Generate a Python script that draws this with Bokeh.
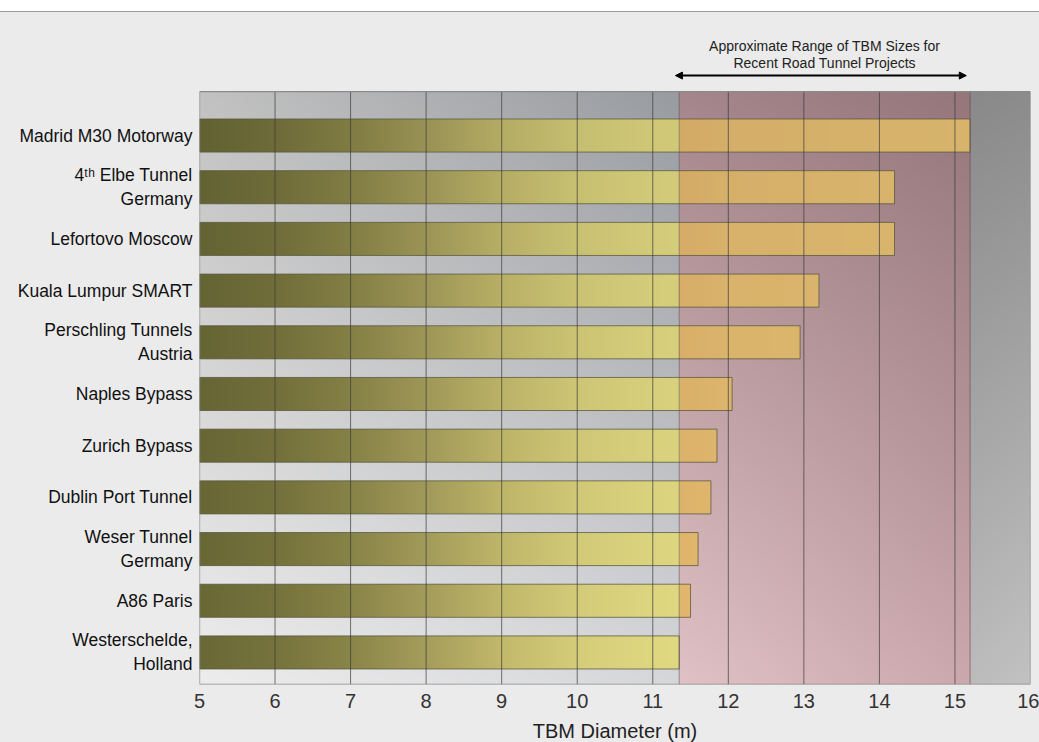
import numpy as np
from bokeh.plotting import figure
from bokeh.models import FixedTicker, Div, Arrow, NormalHead
from bokeh.layouts import column
from bokeh.embed import file_html
from bokeh.resources import INLINE
from bokeh.core.properties import value

# TBM diameters of recent road tunnel projects (m), listed top to bottom
projects = [
    "Madrid M30 Motorway",
    "4ᵗʰ Elbe Tunnel\nGermany",
    "Lefortovo Moscow",
    "Kuala Lumpur SMART",
    "Perschling Tunnels\nAustria",
    "Naples Bypass",
    "Zurich Bypass",
    "Dublin Port Tunnel",
    "Weser Tunnel\nGermany",
    "A86 Paris",
    "Westerschelde,\nHolland",
]
diameters = [15.2, 14.2, 14.2, 13.2, 12.95, 12.05, 11.85, 11.77, 11.6, 11.5, 11.35]
x_ticks = [5, 6, 7, 8, 9, 10, 11, 12, 13, 14, 15, 16]
range_note = ["Approximate Range of TBM Sizes for", "Recent Road Tunnel Projects"]

FONT = "Liberation Sans"
X_MIN, X_MAX = x_ticks[0], x_ticks[-1]
BAR_H = 0.64
Y_LOW, Y_PLOT_TOP, Y_TOP = -0.62, 10.85, 12.38

n = len(projects)
rows = [n - 1 - i for i in range(n)]
range_low, range_high = min(diameters), max(diameters)


def rgb(h):
    return np.array([int(h[i:i + 2], 16) for i in (1, 3, 5)], dtype=float)


def to_rgba(arr):
    h, w, _ = arr.shape
    out = np.empty((h, w), dtype=np.uint32)
    view = out.view(dtype=np.uint8).reshape((h, w, 4))
    view[..., :3] = np.clip(arr, 0, 255).astype(np.uint8)
    view[..., 3] = 255
    return out


def corners(u, v, tl, tr, bl, br):
    u = u[None, :, None]
    v = v[:, None, None]
    top = (1 - u) * rgb(tl) + u * rgb(tr)
    bot = (1 - u) * rgb(bl) + u * rgb(br)
    return (1 - v) * bot + v * top


# ---- shaded plot background: grey zone, highlighted range, grey margin
BW, BH = 660, 240
bx = X_MIN + (np.arange(BW) + 0.5) / BW * (X_MAX - X_MIN)
bv = (np.arange(BH) + 0.5) / BH
bg = np.zeros((BH, BW, 3))
m1 = bx < range_low
m2 = (bx >= range_low) & (bx < range_high)
m3 = bx >= range_high
bg[:, m1] = corners((bx[m1] - X_MIN) / (range_low - X_MIN), bv,
                    "#c2c2c2", "#989ba0", "#ededed", "#d6d7da")
bg[:, m2] = corners((bx[m2] - range_low) / (range_high - range_low), bv,
                    "#a4868c", "#94767b", "#e0c2c6", "#cba8ad")
bg[:, m3] = corners((bx[m3] - range_high) / (X_MAX - range_high), bv,
                    "#898989", "#8c8c8c", "#bcbcbc", "#c2c2c2")

p = figure(
    width=1039, height=729,
    frame_width=831, frame_height=672,
    min_border_left=199, min_border_right=9, min_border_top=0, min_border_bottom=50,
    x_range=(X_MIN, X_MAX), y_range=(Y_LOW, Y_TOP),
    output_backend="svg", toolbar_location=None,
    background_fill_color="#ebebeb", border_fill_color="#ebebeb",
)
p.outline_line_color = None
p.xgrid.visible = False
p.ygrid.visible = False

p.image_rgba(image=[to_rgba(bg)], x=X_MIN, y=Y_LOW,
             dw=X_MAX - X_MIN, dh=Y_PLOT_TOP - Y_LOW)

# ---- bars with a horizontal olive -> yellow fill, warmer inside the range
cool_x = [5, 6, 7, 8, 9, 10, 11, 11.4]
cool_c = [rgb(c) for c in ["#6a6936", "#76733d", "#8a8548", "#a59d5b",
                           "#c2b96b", "#d5cd79", "#dfd780", "#e1d982"]]
warm_x = [11.3, 12.0, 16.0]
warm_c = [rgb(c) for c in ["#e3b66d", "#e5bc71", "#e8c374"]]


def ramp(xs, stops, cols):
    return np.stack([np.interp(xs, stops, [c[k] for c in cols]) for k in range(3)], axis=-1)


for r, d in zip(rows, diameters):
    cols = max(int((d - X_MIN) * 60), 2)
    xs = X_MIN + (np.arange(cols) + 0.5) / cols * (d - X_MIN)
    c = np.where((xs >= range_low)[:, None], ramp(xs, warm_x, warm_c), ramp(xs, cool_x, cool_c))
    shade = 1.0 - 0.07 * (r / (n - 1))
    img = (c * shade)[None, :, :]
    p.image_rgba(image=[to_rgba(img)], x=X_MIN, y=r - BAR_H / 2,
                 dw=d - X_MIN, dh=BAR_H)

p.hbar(y=rows, left=X_MIN, right=diameters, height=BAR_H,
       fill_alpha=0, line_color="#57553c", line_alpha=0.75, line_width=1)

# ---- vertical grid lines and zone edges, drawn over the bars
inner = x_ticks[1:-1]
p.segment(x0=inner, y0=Y_LOW, x1=inner, y1=Y_PLOT_TOP,
          line_color="#3c3c3c", line_alpha=0.7, line_width=1)
edges = [range_low, range_high]
p.segment(x0=edges, y0=Y_LOW, x1=edges, y1=Y_PLOT_TOP,
          line_color="#5a4a4e", line_alpha=0.55, line_width=1)
p.quad(left=X_MIN, right=X_MAX, bottom=Y_LOW, top=Y_PLOT_TOP,
       fill_alpha=0, line_color="#8a8a8a", line_width=1.3)

# ---- range annotation above the plot
mid = (range_low + range_high) / 2
p.text(x=[mid, mid], y=[11.74, 11.41], text=range_note,
       text_align="center", text_baseline="middle",
       text_font=value(FONT), text_font_size="14px", text_color="#222222")
p.add_layout(Arrow(
    start=NormalHead(size=7, fill_color="black", line_color="black"),
    end=NormalHead(size=7, fill_color="black", line_color="black"),
    x_start=range_low - 0.05, y_start=11.16, x_end=range_high - 0.05, y_end=11.16,
    line_color="black", line_width=2))

# ---- axes
p.xaxis.ticker = FixedTicker(ticks=x_ticks)
p.xaxis.axis_line_color = None
p.xaxis.major_tick_line_color = None
p.xaxis.minor_tick_line_color = None
p.xaxis.major_label_text_font = FONT
p.xaxis.major_label_text_font_size = "20px"
p.xaxis.major_label_text_color = "#333333"
p.xaxis.major_label_standoff = 3
p.xaxis.axis_label = "TBM Diameter (m)"
p.xaxis.axis_label_text_font = FONT
p.xaxis.axis_label_text_font_size = "20px"
p.xaxis.axis_label_text_font_style = "normal"
p.xaxis.axis_label_text_color = "#222222"
p.xaxis.axis_label_standoff = 9

p.yaxis.ticker = FixedTicker(ticks=rows)
p.yaxis.major_label_overrides = {r: name for r, name in zip(rows, projects)}
p.yaxis.axis_line_color = None
p.yaxis.major_tick_line_color = None
p.yaxis.minor_tick_line_color = None
p.yaxis.major_label_text_font = FONT
p.yaxis.major_label_text_font_size = "17.5px"
p.yaxis.major_label_text_color = "#111111"
p.yaxis.major_label_standoff = 1

top_strip = Div(text="", width=1039, height=12, margin=(0, 0, 0, 0),
                styles={"background-color": "white", "border-bottom": "1px solid #9c9c9c"})

layout = column(top_strip, p, spacing=0)
layout.styles = {"background-color": "#ebebeb"}

open("out.html", "w").write(file_html(layout, INLINE))
